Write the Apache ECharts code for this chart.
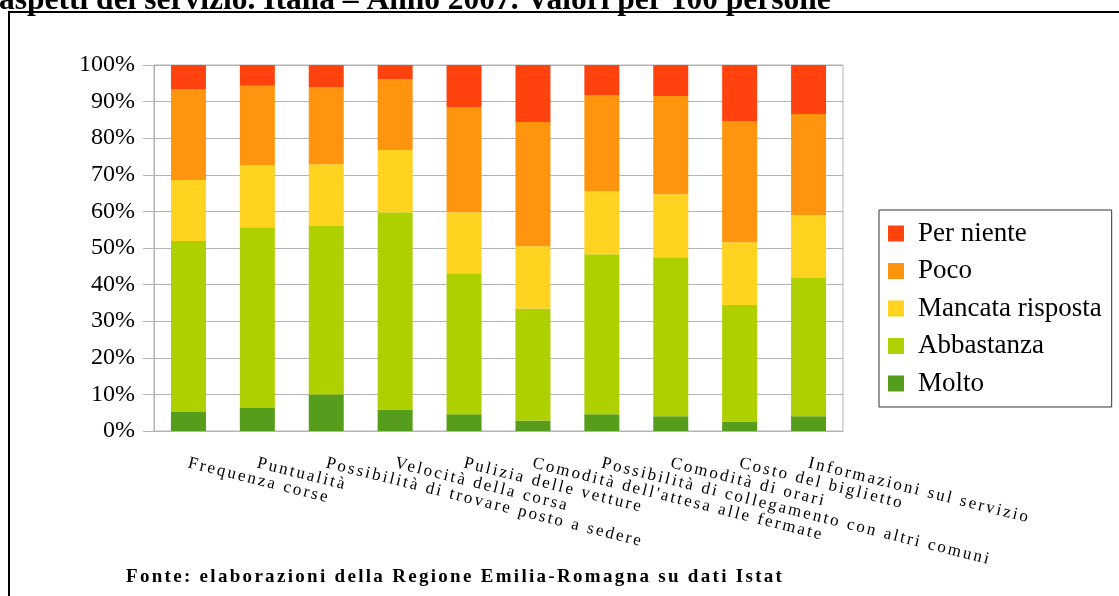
<!DOCTYPE html>
<html>
<head>
<meta charset="utf-8">
<script src="https://cdn.jsdelivr.net/npm/echarts@6/dist/echarts.min.js"></script>
<style>html,body{margin:0;padding:0;background:#fff}#c{width:1119px;height:596px}</style>
</head>
<body>
<div id="c"></div>
<script>
const categories = ["Frequenza corse","Puntualità","Possibilità di trovare posto a sedere","Velocità della corsa","Pulizia delle vetture","Comodità dell'attesa alle fermate","Possibilità di collegamento con altri comuni","Comodità di orari","Costo del biglietto","Informazioni sul servizio"];
const molto      = [5.2, 6.3, 10.0, 5.9, 4.6, 2.9, 4.6, 4.0, 2.6, 4.0];
const abbastanza = [46.7, 49.4, 46.0, 53.9, 38.5, 30.6, 43.7, 43.5, 31.8, 37.8];
const mancata    = [16.7, 17.0, 16.9, 17.0, 16.7, 17.0, 17.2, 17.2, 17.2, 17.2];
const poco       = [24.7, 21.6, 21.1, 19.4, 28.7, 33.9, 26.3, 26.8, 33.1, 27.6];
const perNiente  = [6.7, 5.7, 6.0, 3.8, 11.5, 15.6, 8.2, 8.5, 15.3, 13.4];
const seriesNames = ["Molto","Abbastanza","Mancata risposta","Poco","Per niente"];
const seriesColors = ["#579d1c","#aecf00","#ffd320","#ff950e","#ff420e"];
const yTicks = [0,10,20,30,40,50,60,70,80,90,100];
const titleText = "aspetti del servizio. Italia – Anno 2007. Valori per 100 persone";
const footerText = "Fonte: elaborazioni della Regione Emilia-Romagna su dati Istat";

// letter-spaced text for the category labels and the source note (as in the reference)
(function(){
  const P = CanvasRenderingContext2D.prototype;
  const orig = P.fillText;
  P.fillText = function(t, x, y, m){
    const f = this.font || '';
    let ls = '0px';
    if (/(^|\s)17px/.test(f) && !/(bold|700)/.test(f)) ls = '2.3px';
    else if (/(bold|700) 19px/.test(f)) ls = '2.3px';
    if ('letterSpacing' in this) {
      if (this.letterSpacing !== ls) { this.letterSpacing = ls; this.font = f; }
    }
    return m === undefined ? orig.call(this, t, x, y) : orig.call(this, t, x, y, m);
  };
})();

const values = [molto, abbastanza, mancata, poco, perNiente];
const chart = echarts.init(document.getElementById('c'), null, {renderer:'canvas'});
const gray = '#b3b3b3';
chart.setOption({
  animation:false,
  backgroundColor:'#fff',
  grid:{left:154, top:65, right:276, bottom:165, show:true, borderColor:gray, borderWidth:1},
  legend:{
    orient:'vertical', left:879, top:210,
    data: seriesNames.slice().reverse(),
    icon:'rect', itemWidth:16, itemHeight:16, itemGap:10.5,
    padding:[10,10,10,9],
    borderColor:'#333', borderWidth:1,
    textStyle:{fontFamily:'Liberation Serif', fontSize:27, color:'#000', lineHeight:27, padding:[0,0,0,9]}
  },
  xAxis:{
    type:'category', data:categories,
    axisLine:{lineStyle:{color:gray}},
    axisTick:{length:11, lineStyle:{color:gray}},
    axisLabel:{interval:0, rotate:-14, margin:32, fontFamily:'Liberation Serif', fontSize:17, color:'#000'}
  },
  yAxis:{
    type:'value', min:yTicks[0], max:yTicks[yTicks.length-1], interval:yTicks[1]-yTicks[0],
    axisLine:{show:true, lineStyle:{color:gray}},
    axisTick:{show:true, length:11, lineStyle:{color:gray}},
    splitLine:{lineStyle:{color:gray}},
    axisLabel:{formatter:'{value}%', margin:19, fontFamily:'Liberation Serif', fontSize:24, color:'#000'}
  },
  series: seriesNames.map((n,i)=>({
    name:n, type:'bar', stack:'s', data:values[i], barWidth:35,
    itemStyle:{color:seriesColors[i]}
  })),
  graphic:[
    {type:'rect', shape:{x:9, y:12, width:1130, height:600}, style:{fill:'none', stroke:'#000', lineWidth:2}, z:-1},
    {type:'text', left:-1, top:-15, style:{text:titleText, font:'bold 31.5px "Liberation Serif"', fill:'#000'}},
    {type:'text', x:126, y:577, style:{text:footerText, font:'bold 19px "Liberation Serif"', fill:'#000', verticalAlign:'middle'}}
  ]
});
</script>
</body>
</html>
